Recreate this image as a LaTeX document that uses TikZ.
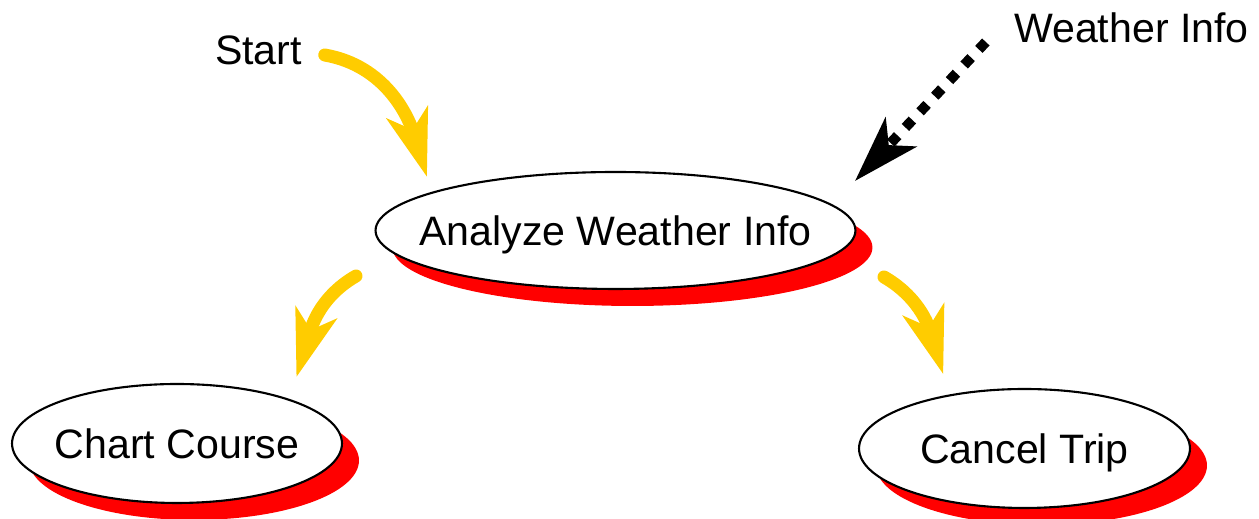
\documentclass[tikz,border=0pt]{standalone}
\usepackage{fontspec}
\setmainfont{Liberation Sans}
\usetikzlibrary{arrows.meta,shapes.geometric,shadows}

\definecolor{flowyellow}{RGB}{255,204,0}

\begin{document}
\begin{tikzpicture}[x=0.02cm, y=0.02cm,
        every node/.style={font=\fontsize{23.4}{27}\selectfont},
        stage/.style={ellipse, draw, line width=1.2pt, fill=white,
            inner xsep=-30pt, inner ysep=0pt, text height=17.5pt, text depth=0pt,
            drop shadow={shadow xshift=0.34cm, shadow yshift=-0.34cm, fill=red, opacity=1}},
        tag/.style={inner sep=0pt, text height=17.5pt, text depth=0pt},
        flow/.style={-{Stealth[length=38pt, width=24pt, inset=10pt]}, flowyellow,
            line width=7.4pt, line cap=round},
        feed/.style={-{Stealth[length=38pt, width=24pt, inset=10pt]}, black,
            line width=5.8pt, dash pattern=on 5.8pt off 6.4pt}]
        \useasboundingbox (0,0) rectangle (1259,519);

        % --- 1. Stages ---
        \node[stage, minimum width=9.6cm, minimum height=2.34cm] (analyze) at (615.5,288.5) {Analyze Weather Info};
        \node[stage, minimum width=6.6cm, minimum height=2.38cm] (chart) at (177,75.5) {Chart Course};
        \node[stage, minimum width=6.62cm, minimum height=2.38cm] (cancel) at (1024.5,70.5) {Cancel Trip};

        % --- 2. Labels ---
        \node[tag] (start) at (258.5,469.5) {Start};
        \node[tag] (winfo) at (1131.5,491.5) {Weather Info};

        % --- 3. Arrows ---
        \draw[flow] ([shift={(22.5,-5.5)}]start.east) to[out=-10, in=107] ([shift={(52.5,53.5)}]analyze.west);
        \draw[feed] ([shift={(-28,-14.5)}]winfo.west) -- ([shift={(-1.5,49.5)}]analyze.east);
        \draw[flow] ([shift={(-18.5,-45.5)}]analyze.west) to[out=210, in=73] ([shift={(2,23.5)}]chart.north east);
        \draw[flow] ([shift={(27.5,-46.5)}]analyze.east) to[out=-30, in=107] ([shift={(36.5,31.4)}]cancel.north west);
    \end{tikzpicture}
\end{document}
